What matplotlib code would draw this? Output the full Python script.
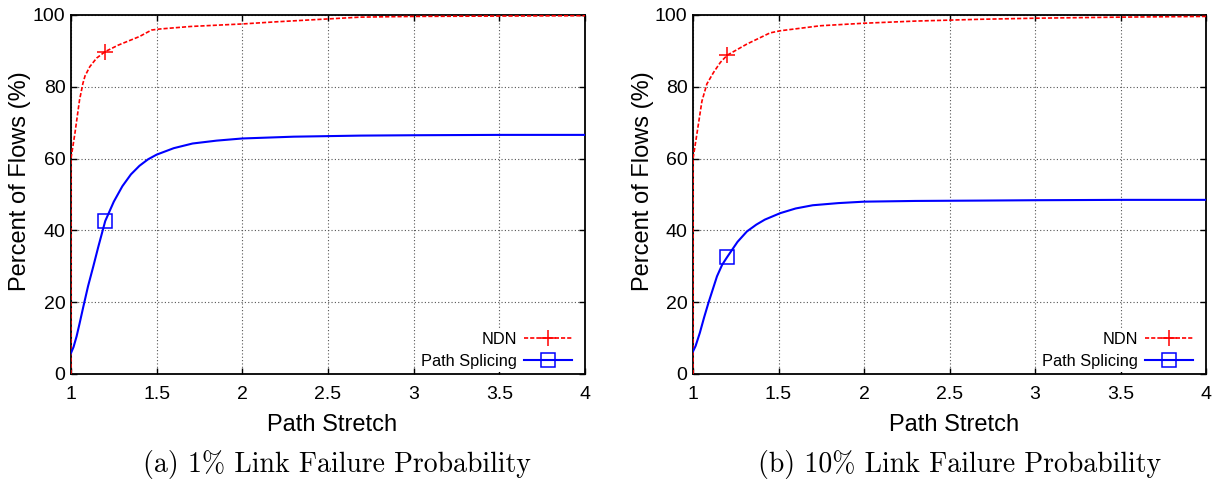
import numpy as np
import matplotlib.pyplot as plt
from matplotlib.ticker import MultipleLocator

# (a) 1% link failure
ndn_x_a = [1, 1, 1.01, 1.023, 1.05, 1.07, 1.082, 1.11, 1.15, 1.2, 1.276, 1.40, 1.47, 1.52,
           1.7, 2.0, 2.2, 2.5, 2.69, 3.0, 3.5, 4.0]
ndn_y_a = [0, 60, 63, 67, 76.3, 81, 83, 85.6, 88, 89.8, 91.6, 94, 95.8, 96.1,
           96.8, 97.5, 98.1, 98.9, 99.4, 99.6, 99.7, 99.8]
ps_x_a = [1, 1.015, 1.033, 1.05, 1.072, 1.1, 1.13, 1.16, 1.2, 1.25, 1.3, 1.35, 1.4,
          1.45, 1.5, 1.6, 1.71, 1.85, 2.0, 2.3, 2.69, 3.0, 3.5, 4.0]
ps_y_a = [5.8, 7.5, 10.5, 14, 18.7, 24.5, 29.9, 35.5, 42.6, 48.0, 52.3, 55.6, 58.0,
          59.8, 61.1, 62.9, 64.2, 65.0, 65.6, 66.1, 66.4, 66.5, 66.6, 66.6]

# (b) 10% link failure
ndn_x_b = [1, 1, 1.01, 1.023, 1.052, 1.081, 1.12, 1.16, 1.2, 1.315, 1.45, 1.51, 1.745, 2.0,
           2.3, 2.68, 3.0, 3.5, 4.0]
ndn_y_b = [0, 60, 63, 67, 76, 80.8, 84, 86.8, 88.8, 91.9, 95, 95.6, 97, 97.7,
           98.3, 98.8, 99.1, 99.4, 99.6]
ps_x_b = [1, 1.015, 1.04, 1.065, 1.09, 1.14, 1.17, 1.2, 1.26, 1.315, 1.37, 1.42, 1.51, 1.6,
          1.7, 1.85, 2.0, 2.3, 2.68, 3.0, 3.5, 4.0]
ps_y_b = [6.3, 7.8, 11.5, 15.8, 19.8, 27.2, 30.4, 32.6, 36.8, 39.7, 41.6, 43, 44.8, 46.1,
          47, 47.6, 48, 48.2, 48.3, 48.4, 48.5, 48.5]

captions = ["(a) 1% Link Failure Probability", "(b) 10% Link Failure Probability"]

plt.rcParams['font.family'] = ['Liberation Sans', 'DejaVu Sans']
plt.rcParams['xtick.direction'] = 'in'
plt.rcParams['ytick.direction'] = 'in'
plt.rcParams['xtick.top'] = True
plt.rcParams['ytick.right'] = True

fig = plt.figure(figsize=(12.15, 4.83), dpi=100)
ax_a = fig.add_axes([0.0584, 0.2257, 0.4231, 0.7433])
ax_b = fig.add_axes([0.5704, 0.2257, 0.4222, 0.7433])

panels = [(ax_a, ndn_x_a, ndn_y_a, ps_x_a, ps_y_a),
          (ax_b, ndn_x_b, ndn_y_b, ps_x_b, ps_y_b)]
cap_x = [337 / 1215, 960 / 1215]

for i, (ax, nx, ny, px, py) in enumerate(panels):
    ax.plot(nx, ny, color='red', ls=(0, (2.5, 1.2)), lw=1.2, marker='+', ms=11, mew=1.1,
            markevery=[nx.index(1.2)], label='NDN', zorder=3)
    ax.plot(px, py, color='blue', ls='-', lw=1.5, marker='s', ms=10, mfc='none', mew=1.1,
            markevery=[px.index(1.2)], label='Path Splicing', zorder=3)
    ax.set_xlim(1, 4)
    ax.set_ylim(0, 100)
    ax.xaxis.set_major_locator(MultipleLocator(0.5))
    ax.yaxis.set_major_locator(MultipleLocator(20))
    ax.xaxis.set_major_formatter(plt.FuncFormatter(lambda v, p: f"{v:g}"))
    ax.grid(True, color='#555555', ls=(0, (1, 2)), lw=0.8)
    ax.tick_params(axis='both', labelsize=14, length=4, width=1)
    ax.tick_params(axis='x', pad=9)
    ax.tick_params(axis='y', pad=4)
    for s in ax.spines.values():
        s.set_linewidth(1.3)
    ax.set_xlabel('Path Stretch', fontsize=17)
    ax.set_ylabel('Percent of Flows (%)', fontsize=17)
    ax.xaxis.set_label_coords(0.508, -0.111)
    ax.yaxis.set_label_coords(-0.077, 0.536)
    leg = ax.legend(loc='lower right', bbox_to_anchor=(0.9805, 0.005),
                    markerfirst=False, numpoints=1, fontsize=11.8,
                    frameon=True, framealpha=1, facecolor='white', edgecolor='none',
                    handlelength=2.9, handletextpad=0.45, labelspacing=0.42,
                    borderaxespad=0, borderpad=0.2, fancybox=False)
    for t in leg.get_texts():
        t.set_ha('right')
    fig.text(cap_x[i], 1 - 472 / 483, captions[i], ha='center', va='baseline',
             fontsize=20, family='cmr10')

fig.savefig('out.png', dpi=100)
